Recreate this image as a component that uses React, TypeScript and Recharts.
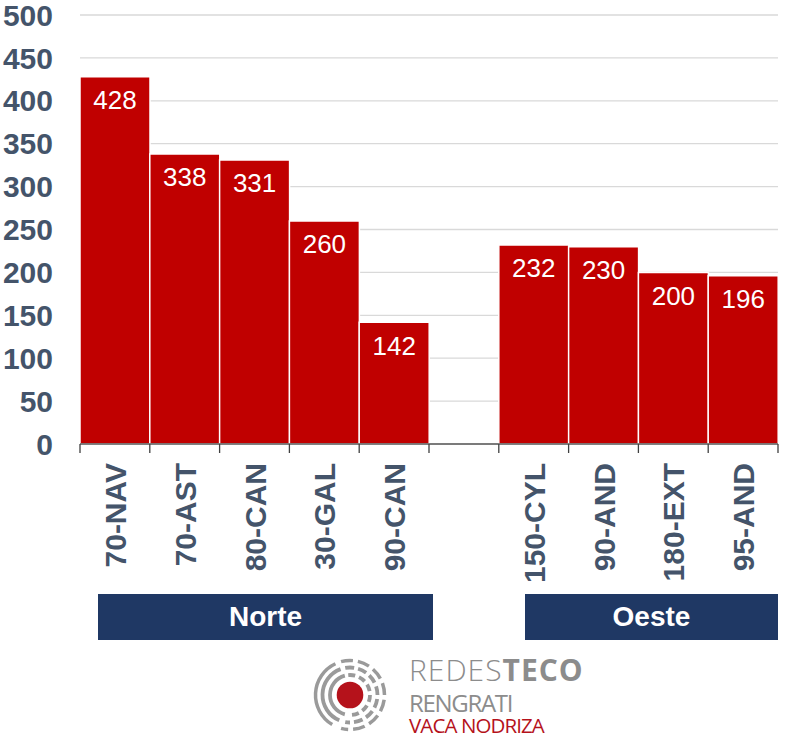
import React from 'react';
import { BarChart, Bar, XAxis, YAxis, CartesianGrid, LabelList } from 'recharts';

const categories = ['70-NAV', '70-AST', '80-CAN', '30-GAL', '90-CAN', ' ', '150-CYL', '90-AND', '180-EXT', '95-AND'];
const values: (number | null)[] = [428, 338, 331, 260, 142, null, 232, 230, 200, 196];
const yTicks = [0, 50, 100, 150, 200, 250, 300, 350, 400, 450, 500];
const groups = ['Norte', 'Oeste'];

const data = categories.map((c, i) => ({ name: c, value: values[i] }));

const W = 787;
const H = 738;
const M = { top: 15, right: 9, left: 0, bottom: 174 };
const Y_W = 80;
const PLOT_W = W - M.left - M.right - Y_W;
const BAND = PLOT_W / categories.length;

const SLATE = '#44546A';
const RED = '#C00000';
const NAVY = '#1F3864';
const FONT = '"Liberation Sans", Arial, sans-serif';

const XTick = (props: any) => {
  const { x, y, payload, index } = props;
  const isLast = index === categories.length - 1;
  return (
    <g>
      <line x1={x - BAND / 2} x2={x - BAND / 2} y1={y} y2={y + 9} stroke="#404040" strokeWidth={1.3} />
      {isLast && <line x1={x + BAND / 2} x2={x + BAND / 2} y1={y} y2={y + 9} stroke="#404040" strokeWidth={1.3} />}
      <text
        x={0}
        y={0}
        transform={`translate(${x + 11},${y + 19}) rotate(-90)`}
        textAnchor="end"
        fontFamily={FONT}
        fontWeight="bold"
        fontSize={30}
        fill={SLATE}
      >
        {payload.value}
      </text>
    </g>
  );
};

const arc = (r: number, a0: number, a1: number) => {
  const rad = (a: number) => (a * Math.PI) / 180;
  const x0 = r * Math.cos(rad(a0));
  const y0 = r * Math.sin(rad(a0));
  const x1 = r * Math.cos(rad(a1));
  const y1 = r * Math.sin(rad(a1));
  const large = Math.abs(a1 - a0) > 180 ? 1 : 0;
  return `M${x0},${y0} A${r},${r} 0 ${large} 1 ${x1},${y1}`;
};

const rings = [
  { r: 20, w: 3.8, dash: '7 4' },
  { r: 27.5, w: 3.8, dash: '9 4' },
  { r: 34.5, w: 3.5, dash: '12 5' },
];

const Logo = () => (
  <svg width={80} height={80} viewBox="-40 -40 80 80">
    <circle r={13.3} fill="#B5121B" />
    {rings.map((g, i) => (
      <g key={i} fill="none" stroke="#9a9a9a" strokeWidth={g.w}>
        <path d={arc(g.r, 105 + i * 8, 255 - i * 5)} />
        <path d={arc(g.r, 265 - i * 5, 455 + i * 5)} strokeDasharray={g.dash} />
      </g>
    ))}
  </svg>
);

const logoText: React.CSSProperties = { position: 'absolute', left: 409, fontFamily: '"Open Sans", sans-serif', whiteSpace: 'nowrap' };

export default function App() {
  return (
    <div style={{ position: 'absolute', left: 0, top: 0, width: W, height: H, background: '#fff', fontFamily: FONT }}>
      <BarChart width={W} height={H} data={data} margin={M} barCategoryGap={0}>
        <CartesianGrid horizontal vertical={false} stroke="#D9D9D9" strokeWidth={1.3} />
        <YAxis
          width={Y_W}
          domain={[0, 500]}
          ticks={yTicks}
          axisLine={false}
          tickLine={false}
          tickSize={0}
          tickMargin={27}
          interval={0}
          tick={{ fill: SLATE, fontSize: 30, fontWeight: 'bold', fontFamily: FONT }}
        />
        <XAxis
          dataKey="name"
          interval={0}
          height={120}
          tickLine={false}
          tickSize={0}
          tickMargin={0}
          axisLine={{ stroke: '#595959', strokeWidth: 1.5 }}
          tick={<XTick />}
        />
        <Bar dataKey="value" fill={RED} stroke="#ffffff" strokeWidth={1.5} isAnimationActive={false}>
          <LabelList
            dataKey="value"
            position="insideTop"
            offset={14}
            fill="#ffffff"
            fontSize={26}
            fontFamily={FONT}
          />
        </Bar>
      </BarChart>
      <div style={{ position: 'absolute', left: 98, top: 594, width: 335, height: 46, background: NAVY, color: '#fff', fontWeight: 'bold', fontSize: 28, display: 'flex', alignItems: 'center', justifyContent: 'center' }}>{groups[0]}</div>
      <div style={{ position: 'absolute', left: 525, top: 594, width: 253, height: 46, background: NAVY, color: '#fff', fontWeight: 'bold', fontSize: 28, display: 'flex', alignItems: 'center', justifyContent: 'center' }}>{groups[1]}</div>
      <div style={{ position: 'absolute', left: 310, top: 655 }}><Logo /></div>
      <div style={{ ...logoText, top: 658, fontSize: 30, lineHeight: '24px', color: '#8c8c8c', letterSpacing: 1 }}>
        <span style={{ fontWeight: 300 }}>REDES</span><span style={{ fontWeight: 700 }}>TECO</span>
      </div>
      <div style={{ ...logoText, top: 693, fontSize: 24, lineHeight: '20px', color: '#8c8c8c', letterSpacing: -1.3 }}>RENGRATI</div>
      <div style={{ ...logoText, top: 717, fontSize: 20.5, lineHeight: '16px', color: '#B5121B', letterSpacing: -0.9 }}>VACA NODRIZA</div>
    </div>
  );
}
